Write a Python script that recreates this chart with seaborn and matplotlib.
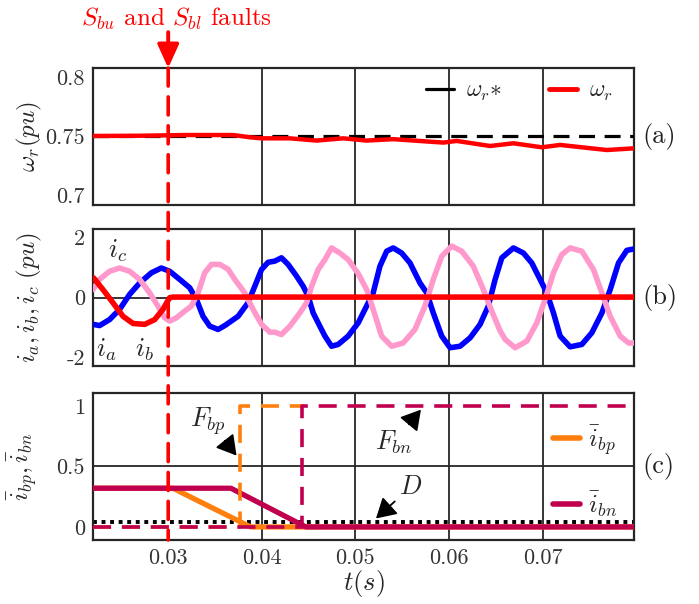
import numpy as np
import matplotlib
matplotlib.use('Agg')
import matplotlib.pyplot as plt
import seaborn as sns
from matplotlib.lines import Line2D
from matplotlib.patches import ConnectionPatch

# values
t_fault = 0.03
t_start, t_end = 0.022, 0.0798

# (a) rotor speed
wr_ref = 0.75
wr_pts = [(0.022, 0.75), (0.02695, 0.7502), (0.03195, 0.7508), (0.03693, 0.7508),
          (0.03872, 0.7489), (0.03997, 0.748), (0.043, 0.748), (0.04585, 0.7461),
          (0.0487, 0.748), (0.0512, 0.7461), (0.05404, 0.7473), (0.05939, 0.7444),
          (0.06082, 0.7458), (0.06439, 0.7415), (0.06688, 0.7438), (0.06991, 0.7404),
          (0.07187, 0.7424), (0.07687, 0.7381), (0.07989, 0.7396)]

# (b) phase currents
ia_pts = [(0.02196, -0.89), (0.02267, -0.93), (0.02374, -0.73), (0.02481, -0.39),
          (0.02588, 0.11), (0.02695, 0.49), (0.0282, 0.83), (0.02927, 0.99),
          (0.03016, 0.88), (0.03123, 0.61), (0.0323, 0.33), (0.03302, -0.06),
          (0.03372, -0.62), (0.03444, -0.95), (0.03533, -1.06), (0.0361, -0.92),
          (0.03747, -0.62), (0.03853, -0.17), (0.03925, 0.38), (0.03997, 0.94),
          (0.04067, 1.18), (0.04139, 1.22), (0.0421, 1.33), (0.04281, 1.11),
          (0.04371, 0.72), (0.04442, 0.38), (0.04495, 0.05), (0.04549, -0.51),
          (0.0462, -0.95), (0.04674, -1.28), (0.04745, -1.62), (0.04816, -1.56),
          (0.04923, -1.28), (0.0503, -0.84), (0.05102, -0.39), (0.0519, 0.16),
          (0.05262, 1.05), (0.05334, 1.55), (0.05404, 1.66), (0.05494, 1.49),
          (0.05583, 1.16), (0.0569, 0.49), (0.05762, 0.16), (0.05832, -0.51),
          (0.05922, -1.28), (0.06011, -1.67), (0.06118, -1.62), (0.06225, -1.34),
          (0.06332, -0.89), (0.0642, -0.28), (0.06492, 0.6), (0.06564, 1.33),
          (0.06688, 1.66), (0.06795, 1.49), (0.06884, 1.16), (0.06973, 0.61),
          (0.07045, 0.16), (0.07116, -0.51), (0.07187, -1.28), (0.07294, -1.64),
          (0.07419, -1.56), (0.07526, -1.17), (0.07633, -0.51), (0.07722, 0.27),
          (0.07811, 1.16), (0.079, 1.58), (0.07982, 1.63)]
ib_pts = [(0.02203, 0.66), (0.02303, 0.27), (0.0241, -0.17), (0.02517, -0.62),
          (0.02624, -0.86), (0.02749, -0.89), (0.02856, -0.73), (0.02944, -0.39),
          (0.02987, -0.15), (0.03016, 0.0), (0.0305, 0.02), (0.0798, 0.02)]
ic_pts = [(0.02196, 0.27), (0.02267, 0.61), (0.02374, 0.88), (0.02481, 0.99),
          (0.02588, 0.88), (0.02695, 0.61), (0.02802, 0.16), (0.0289, -0.28),
          (0.02963, -0.67), (0.03016, -0.78), (0.03088, -0.67), (0.03176, -0.45),
          (0.03248, -0.28), (0.03319, 0.16), (0.0339, 0.83), (0.03462, 1.11),
          (0.03551, 1.11), (0.0364, 0.95), (0.03711, 0.61), (0.03818, 0.16),
          (0.03907, -0.39), (0.03997, -0.89), (0.04086, -1.15), (0.04139, -1.15),
          (0.0421, -1.23), (0.043, -0.95), (0.04406, -0.51), (0.04478, -0.17),
          (0.04532, 0.38), (0.04602, 0.94), (0.04674, 1.27), (0.04745, 1.66),
          (0.04834, 1.49), (0.04923, 1.27), (0.0503, 0.8), (0.0512, 0.27),
          (0.0519, -0.39), (0.0528, -1.28), (0.05387, -1.62), (0.05511, -1.51),
          (0.05636, -1.06), (0.05743, -0.28), (0.05832, 0.61), (0.05922, 1.38),
          (0.06029, 1.72), (0.06136, 1.55), (0.0626, 1.05), (0.06367, 0.27),
          (0.06457, -0.45), (0.06545, -1.1), (0.06599, -1.39), (0.06706, -1.67),
          (0.06831, -1.45), (0.06938, -0.84), (0.07027, -0.06), (0.07116, 0.83),
          (0.07205, 1.44), (0.07294, 1.66), (0.07419, 1.55), (0.07543, 0.94),
          (0.07633, 0.16), (0.07722, -0.62), (0.07829, -1.28), (0.07918, -1.51),
          (0.07982, -1.51)]

# (c) normalised currents, fault flags and threshold
ibp_t = [0.022, 0.0305, 0.0388, 0.0798]
ibp_v = [0.32, 0.32, 0.0, 0.0]
ibn_t = [0.022, 0.0367, 0.0447, 0.0798]
ibn_v = [0.32, 0.32, 0.0, 0.0]
fbp_t = [0.022, 0.0377, 0.0377, 0.0445]
fbp_v = [0.0, 0.0, 1.0, 1.0]
fbn_t = [0.022, 0.0443, 0.0443, 0.0798]
fbn_v = [0.0, 0.0, 1.0, 1.0]
d_level = 0.04

xticks = [0.03, 0.04, 0.05, 0.06, 0.07]
xtick_labels = ['0.03', '0.04', '0.05', '0.06', '0.07']

RED = '#ff0000'
BLUE = '#0000ff'
PINK = '#ff99cc'
ORANGE = '#ff7f0e'
CRIMSON = '#c0004f'
DARK = '#262626'

sns.set_style('white')
plt.rcParams['font.family'] = 'serif'
plt.rcParams['font.serif'] = ['cmr10']
plt.rcParams['mathtext.fontset'] = 'cm'
plt.rcParams['axes.unicode_minus'] = False
plt.rcParams['axes.formatter.use_mathtext'] = True

fig = plt.figure(figsize=(6.99, 6.04), dpi=100)
ax1 = fig.add_axes([0.1335, 0.6606, 0.774, 0.2268])
ax2 = fig.add_axes([0.1335, 0.394, 0.774, 0.2263])
ax3 = fig.add_axes([0.1335, 0.106, 0.774, 0.2434])

dash = (0, (5, 3))

for ax in (ax1, ax2, ax3):
    ax.set_xlim(t_start, t_end)
    ax.set_xticks(xticks)
    for x in xticks[1:]:
        ax.axvline(x, color=DARK, lw=1.3, zorder=1)
    for s in ax.spines.values():
        s.set_color(DARK)
        s.set_linewidth(1.6)
    ax.tick_params(direction='in', length=4, width=1, colors=DARK,
                   labelsize=16, labelcolor='#333333', pad=6)

ax1.set_xticklabels([])
ax2.set_xticklabels([])
ax3.set_xticklabels(xtick_labels)

# (a)
wr = np.array(wr_pts)
ax1.plot([t_start, t_end], [wr_ref, wr_ref], color='black', lw=2.3,
         linestyle=dash, zorder=3)
sns.lineplot(x=wr[:, 0], y=wr[:, 1], ax=ax1, color=RED, lw=3.2,
             estimator=None, sort=False, zorder=4)
ax1.set_ylim(0.6915, 0.8076)
ax1.set_yticks([0.7, 0.75, 0.8])
ax1.set_yticklabels(['0.7', '0.75', '0.8'])
ax1.set_ylabel(r'$\omega_r(pu)$', fontsize=18)
ax1.yaxis.set_label_coords(-0.092, 0.5)
leg_h = [Line2D([], [], color='black', lw=2.3), Line2D([], [], color=RED, lw=3.5)]
ax1.legend(leg_h, [r'$\omega_r{\ast}$', r'$\omega_r$'], ncol=2, loc='upper right',
           frameon=False, fontsize=17, handlelength=1.2, columnspacing=2.0,
           handletextpad=0.5, bbox_to_anchor=(1.0, 1.07))

# (b)
ax2.axhline(0, color=DARK, lw=1.3, zorder=1)
for pts, col in ((ia_pts, BLUE), (ic_pts, PINK), (ib_pts, RED)):
    arr = np.array(pts)
    sns.lineplot(x=arr[:, 0], y=arr[:, 1], ax=ax2, color=col, lw=4,
                 estimator=None, sort=False, zorder=3)
ax2.set_ylim(-2.28, 2.28)
ax2.set_yticks([-2, 0, 2])
ax2.set_yticklabels(['-2', '0', '2'])
ax2.set_ylabel(r'$i_a, i_b, i_c\ (pu)$', fontsize=18)
ax2.yaxis.set_label_coords(-0.092, 0.5)
ax2.text(0.0246, 1.55, r'$i_c$', fontsize=19, ha='center', va='center')
ax2.text(0.0234, -1.75, r'$i_a$', fontsize=19, ha='center', va='center')
ax2.text(0.0275, -1.75, r'$i_b$', fontsize=19, ha='center', va='center')

# (c)
ax3.axhline(0.5, color=DARK, lw=1.3, zorder=1)
ax3.plot([t_start, t_end], [d_level, d_level], color='black', lw=2.8,
         linestyle=(0, (1, 1.2)), zorder=2)
sns.lineplot(x=ibp_t, y=ibp_v, ax=ax3, color=ORANGE, lw=3.8,
             estimator=None, sort=False, zorder=3)
sns.lineplot(x=ibn_t, y=ibn_v, ax=ax3, color=CRIMSON, lw=3.8,
             estimator=None, sort=False, zorder=4)
sns.lineplot(x=fbp_t, y=fbp_v, ax=ax3, color=ORANGE, lw=2.6,
             linestyle=dash, estimator=None, sort=False, zorder=5)
sns.lineplot(x=fbn_t, y=fbn_v, ax=ax3, color=CRIMSON, lw=2.6,
             linestyle=dash, estimator=None, sort=False, zorder=6)
ax3.set_ylim(-0.108, 1.108)
ax3.set_yticks([0, 0.5, 1])
ax3.set_yticklabels(['0', '0.5', '1'])
ax3.set_ylabel(r'$\bar{i}_{bp}, \bar{i}_{bn}$', fontsize=18)
ax3.yaxis.set_label_coords(-0.1, 0.5)
ax3.set_xlabel(r'$t(s)$', fontsize=19, labelpad=0)
leg_h = [Line2D([], [], color=ORANGE, lw=4), Line2D([], [], color=CRIMSON, lw=4)]
ax3.legend(leg_h, [r'$\bar{i}_{bp}$', r'$\bar{i}_{bn}$'], loc='center right',
           frameon=False, fontsize=18, handlelength=1.1, labelspacing=1.3,
           handletextpad=0.3, bbox_to_anchor=(1.01, 0.47))

arrow_k = dict(arrowstyle='-|>,head_length=0.6,head_width=0.35', color='black',
               lw=1.3, mutation_scale=20, shrinkA=1, shrinkB=0)
ax3.annotate(r'$F_{bp}$', xy=(0.0373, 0.59), xytext=(0.0343, 0.88), fontsize=19,
             ha='center', va='center', arrowprops=arrow_k)
ax3.annotate(r'$F_{bn}$', xy=(0.0570, 0.97), xytext=(0.0541, 0.70), fontsize=19,
             ha='center', va='center', arrowprops=arrow_k)
ax3.annotate(r'$D$', xy=(0.0522, 0.07), xytext=(0.0559, 0.33), fontsize=19,
             ha='center', va='center', arrowprops=arrow_k)

for ax, lab in ((ax1, '(a)'), (ax2, '(b)'), (ax3, '(c)')):
    ax.text(1.015, 0.5, lab, transform=ax.transAxes, fontsize=19,
            ha='left', va='center', color='#222222')

# fault instant: dashed line through all panels + arrow and caption
con = ConnectionPatch(xyA=(t_fault, 0.8076), coordsA=ax1.transData,
                      xyB=(t_fault, -0.108), coordsB=ax3.transData,
                      color=RED, lw=2.6, linestyle=dash, zorder=10)
fig.add_artist(con)
ax1.annotate('', xy=(t_fault, 0.8076), xytext=(t_fault, 0.838),
             annotation_clip=False,
             arrowprops=dict(arrowstyle='-|>,head_length=0.55,head_width=0.25',
                             color=RED, lw=2.8, mutation_scale=26,
                             shrinkA=0, shrinkB=0))
ax1.text(0.0309, 0.849, r'$S_{bu}$ and $S_{bl}$ faults', color=RED, fontsize=18,
         ha='center', va='center', clip_on=False)

fig.savefig('out.png', dpi=100)
